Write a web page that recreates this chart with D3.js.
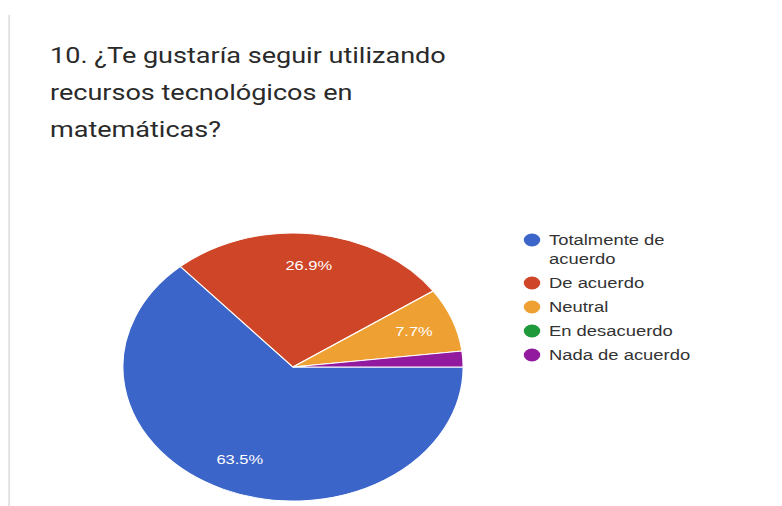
<!DOCTYPE html>
<html>
<head>
<meta charset="utf-8">
<script src="https://cdn.jsdelivr.net/npm/d3@7"></script>
<style>
  body { margin: 0; background: #fff; }
</style>
</head>
<body>
<div id="chart"></div>
<script>
// survey answers (share of responses, %)
var categories = ["Totalmente de acuerdo", "De acuerdo", "Neutral", "En desacuerdo", "Nada de acuerdo"];
var values = [63.5, 26.9, 7.7, 0, 1.9];
var colors = ["#3c65c9", "#cf4527", "#eea032", "#1e9a3a", "#911a9f"];
var titleLines = ["10. ¿Te gustaría seguir utilizando", "recursos tecnológicos en", "matemáticas?"];
var legendLines = [["Totalmente de", "acuerdo"], ["De acuerdo"], ["Neutral"], ["En desacuerdo"], ["Nada de acuerdo"]];

var W = 782, H = 506;
var sx = 1.27; // the screenshot is stretched sideways

var svg = d3.select("#chart").append("svg")
    .attr("width", W)
    .attr("height", H);

var root = svg.append("g")
    .attr("transform", "scale(" + sx + ",1)");

// card border on the left
root.append("line")
    .attr("x1", 7.2).attr("x2", 7.2)
    .attr("y1", 15).attr("y2", H)
    .style("stroke", "#e0e0e0")
    .style("stroke-width", 1.4);

root.append("g").selectAll("text")
    .data(titleLines)
    .enter().append("text")
    .attr("x", 39.4)
    .attr("y", function(d, i) { return 63 + i * 37; })
    .style("font-family", "Roboto, Arial, sans-serif")
    .style("font-size", "21.3px")
    .style("fill", "#2a2a2a")
    .text(function(d) { return d; });

var data = categories.map(function(c, i) {
    return {label: c, value: values[i], color: colors[i]};
});

var r = 134;
var pie = d3.pie()
    .sort(null)
    .value(function(d) { return d.value; })
    .startAngle(Math.PI / 2)
    .endAngle(Math.PI / 2 + 2 * Math.PI);

var arc = d3.arc().innerRadius(0).outerRadius(r);
var labelArc = d3.arc().innerRadius(r * 0.76).outerRadius(r * 0.76);

var pieG = root.append("g")
    .attr("transform", "translate(" + (293 / sx) + ",367)");

var arcs = pie(data);

pieG.selectAll("path")
    .data(arcs.filter(function(d) { return d.data.value > 0; }))
    .enter().append("path")
    .attr("d", arc)
    .style("fill", function(d) { return d.data.color; })
    .style("stroke", "#fff")
    .style("stroke-width", 1);

pieG.selectAll("text")
    .data(arcs.filter(function(d) { return d.data.value >= 5; }))
    .enter().append("text")
    .attr("transform", function(d) { return "translate(" + labelArc.centroid(d) + ")"; })
    .attr("text-anchor", "middle")
    .attr("dy", "0.35em")
    .style("font-family", "Arial, 'Liberation Sans', sans-serif")
    .style("font-size", "13px")
    .style("fill", "#fff")
    .text(function(d) { return d.data.value.toFixed(1) + "%"; });

// legend
var rowY = [240, 283, 307, 331, 355];
var legend = root.append("g");

var item = legend.selectAll("g")
    .data(data)
    .enter().append("g")
    .attr("transform", function(d, i) { return "translate(0," + rowY[i] + ")"; });

item.append("circle")
    .attr("cx", 532 / sx)
    .attr("cy", 0)
    .attr("r", 6.5)
    .style("fill", function(d) { return d.color; });

item.append("text")
    .attr("x", 549 / sx)
    .attr("y", 0)
    .style("font-family", "Arial, 'Liberation Sans', sans-serif")
    .style("font-size", "14.5px")
    .style("fill", "#333")
    .selectAll("tspan")
    .data(function(d, i) { return legendLines[i]; })
    .enter().append("tspan")
    .attr("x", 549 / sx)
    .attr("dy", function(d, j) { return j === 0 ? "0.35em" : "19px"; })
    .text(function(d) { return d; });
</script>
</body>
</html>
